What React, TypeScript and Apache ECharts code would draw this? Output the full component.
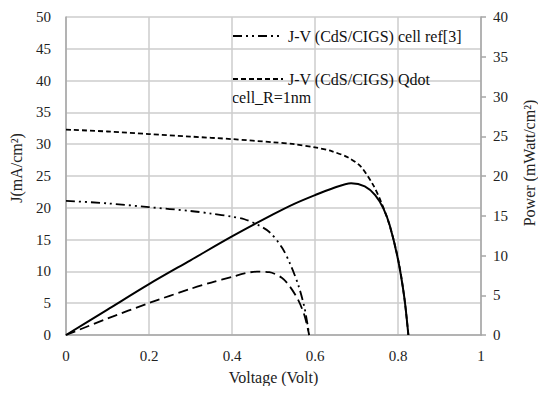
import React, { useEffect, useRef } from "react";
import * as echarts from "echarts";

// J-V curve, reference CdS/CIGS cell
const refV = [0, 0.1, 0.2, 0.3, 0.35, 0.4, 0.43, 0.46, 0.49, 0.52, 0.54, 0.56, 0.575, 0.586];
const refJ = [21.1, 20.7, 20.1, 19.5, 19.1, 18.6, 18.2, 17.4, 16.2, 13.8, 11.2, 7.8, 4.2, 0];
// Power curve, reference cell
const refPV = [0, 0.1, 0.2, 0.3, 0.35, 0.4, 0.43, 0.46, 0.49, 0.52, 0.54, 0.56, 0.575, 0.586];
const refP = [0, 2.07, 4.02, 5.8, 6.6, 7.3, 7.75, 7.97, 7.9, 7.2, 6.05, 4.35, 2.4, 0];
// J-V curve, Qdot cell R=1nm
const qdV = [0, 0.1, 0.2, 0.3, 0.4, 0.5, 0.55, 0.6, 0.64, 0.68, 0.71, 0.74, 0.76, 0.78, 0.8, 0.815, 0.825];
const qdJ = [32.3, 32.0, 31.6, 31.2, 30.8, 30.3, 30.0, 29.5, 28.9, 27.9, 26.5, 23.6, 20.8, 17.2, 12.0, 6.0, 0];
// Power curve, Qdot cell
const qdPV = [0, 0.1, 0.2, 0.3, 0.4, 0.5, 0.55, 0.6, 0.64, 0.687, 0.72, 0.745, 0.765, 0.78, 0.8, 0.815, 0.825];
const qdP = [0, 3.2, 6.4, 9.4, 12.4, 15.2, 16.5, 17.6, 18.4, 19.1, 18.7, 17.6, 15.9, 13.8, 9.5, 4.8, 0];

const xTicks = [0, 0.2, 0.4, 0.6, 0.8, 1];

const nameRef = "J-V (CdS/CIGS) cell ref[3]";
const nameQd = "J-V (CdS/CIGS) Qdot";

const FONT = "'Liberation Serif', 'Times New Roman', Times, serif";

function pairs(xs: number[], ys: number[]) {
  return xs.map((x, i) => [x, ys[i]]);
}

export default function App() {
  const ref = useRef<HTMLDivElement>(null);
  useEffect(() => {
    const chart = echarts.init(ref.current!, null, { renderer: "svg" });
    const gray = "#a6a6a6";
    const grid = "#cccccc";
    const legendCommon = {
      left: 232,
      itemWidth: 50,
      itemHeight: 14,
      itemGap: 6,
      itemStyle: { opacity: 0 },
      textStyle: { fontFamily: FONT, fontSize: 16, color: "#111" },
      padding: 0,
    };
    chart.setOption({
      animation: false,
      textStyle: { fontFamily: FONT },
      grid: { left: 65, right: 65, top: 17, bottom: 59 },
      legend: [
        { ...legendCommon, data: [nameRef], top: 28 },
        { ...legendCommon, data: [nameQd], top: 71 },
      ],
      graphic: [
        {
          type: "text",
          left: 232,
          top: 89,
          style: { text: "cell_R=1nm", fontFamily: FONT, fontSize: 16, fill: "#111" },
        },
      ],
      xAxis: {
        type: "value",
        min: 0,
        max: 1,
        interval: 0.2,
        name: "Voltage (Volt)",
        nameLocation: "middle",
        nameGap: 34,
        nameTextStyle: { fontFamily: FONT, fontSize: 16, color: "#222" },
        axisLine: { show: true, lineStyle: { color: gray, width: 1.5 } },
        axisTick: { show: false },
        axisLabel: {
          margin: 13,
          fontFamily: FONT,
          fontSize: 15,
          color: "#222",
          formatter: (v: number) => {
            const t = xTicks.find((k) => Math.abs(k - v) < 1e-6);
            return t === undefined ? "" : String(t);
          },
        },
        splitLine: { show: true, lineStyle: { color: grid, width: 1.5 } },
      },
      yAxis: [
        {
          type: "value",
          min: 0,
          max: 50,
          interval: 5,
          name: "J(mA/cm²)",
          nameLocation: "middle",
          nameGap: 42,
          nameTextStyle: { fontFamily: FONT, fontSize: 16, color: "#222", padding: [0, 0, 0, 16] },
          axisLine: { show: true, lineStyle: { color: gray, width: 1.5 } },
          axisTick: { show: false },
          axisLabel: { margin: 15, fontFamily: FONT, fontSize: 15, color: "#222" },
          splitLine: { show: true, lineStyle: { color: grid, width: 1.5 } },
        },
        {
          type: "value",
          position: "right",
          min: 0,
          max: 40,
          interval: 5,
          name: "Power (mWatt/cm²)",
          nameLocation: "middle",
          nameRotate: 90,
          nameGap: 40,
          nameTextStyle: { fontFamily: FONT, fontSize: 16, color: "#222", padding: [0, 0, 0, 26] },
          axisLine: { show: true, lineStyle: { color: gray, width: 1.5 } },
          axisTick: { show: true, inside: false, length: 5, lineStyle: { color: gray, width: 1.5 } },
          axisLabel: { margin: 12, fontFamily: FONT, fontSize: 15, color: "#222" },
          splitLine: { show: false },
        },
      ],
      series: [
        {
          name: nameRef,
          type: "line",
          yAxisIndex: 0,
          data: pairs(refV, refJ),
          smooth: 0.3,
          symbol: "none",
          lineStyle: { color: "#000", width: 1.8, type: [9, 4, 2, 4, 2, 4] },
        },
        {
          name: nameQd,
          type: "line",
          yAxisIndex: 0,
          data: pairs(qdV, qdJ),
          smooth: 0.3,
          symbol: "none",
          lineStyle: { color: "#000", width: 1.8, type: [5, 3] },
        },
        {
          name: "Power ref",
          type: "line",
          yAxisIndex: 1,
          data: pairs(refPV, refP),
          smooth: 0.3,
          symbol: "none",
          lineStyle: { color: "#000", width: 1.8, type: [10, 5] },
        },
        {
          name: "Power Qdot",
          type: "line",
          yAxisIndex: 1,
          data: pairs(qdPV, qdP),
          smooth: 0.3,
          symbol: "none",
          lineStyle: { color: "#000", width: 2, type: "solid" },
        },
      ],
    });
    return () => chart.dispose();
  }, []);
  return <div ref={ref} style={{ width: 546, height: 394, margin: -8 }} />;
}
